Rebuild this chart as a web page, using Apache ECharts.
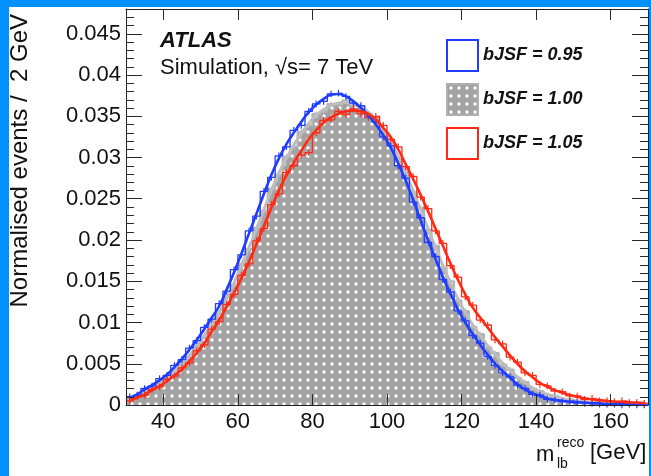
<!DOCTYPE html>
<html><head><meta charset="utf-8">
<script src="https://cdn.jsdelivr.net/npm/echarts@6/dist/echarts.min.js"></script>
<style>html,body{margin:0;padding:0;background:#fff;}#c{width:651px;height:476px;}</style>
</head><body><div id="c"></div>
<script>
// bin centres (2 GeV bins from 30 to 170 GeV)
const massCenters = [31,33,35,37,39,41,43,45,47,49,51,53,55,57,59,61,63,65,67,69,71,73,75,77,79,81,83,85,87,89,91,93,95,97,99,101,103,105,107,109,111,113,115,117,119,121,123,125,127,129,131,133,135,137,139,141,143,145,147,149,151,153,155,157,159,161,163,165,167,169];

// bJSF = 0.95 histogram
const blueHist = [0.0010,0.0012,0.0020,0.0023,0.0032,0.0036,0.0048,0.0055,0.0069,0.0078,0.0094,0.0104,0.0123,0.0138,0.0164,0.0182,0.0211,0.0229,0.0259,0.0276,0.0302,0.0313,0.0333,0.0339,0.0356,0.0365,0.0368,0.0377,0.0378,0.0374,0.0366,0.0363,0.0349,0.0343,0.0325,0.0314,0.0290,0.0275,0.0246,0.0227,0.0197,0.0180,0.0152,0.0137,0.0114,0.0102,0.0084,0.0075,0.0059,0.0048,0.0039,0.0034,0.0024,0.0020,0.0013,0.0012,0.0007,0.0006,0.0004,0.0005,0.0003,0.0002,0.0002,0.0001,0.0001,0.0001,0.0000,0.0001,0.0000,0.0000];
// bJSF = 1.00 histogram
const greyHist = [0.0008,0.0012,0.0015,0.0022,0.0026,0.0034,0.0040,0.0051,0.0059,0.0072,0.0083,0.0099,0.0111,0.0131,0.0146,0.0171,0.0189,0.0215,0.0235,0.0262,0.0279,0.0301,0.0313,0.0331,0.0339,0.0353,0.0356,0.0365,0.0364,0.0369,0.0363,0.0362,0.0353,0.0348,0.0332,0.0321,0.0299,0.0283,0.0258,0.0239,0.0212,0.0193,0.0167,0.0150,0.0127,0.0114,0.0095,0.0086,0.0070,0.0063,0.0049,0.0043,0.0033,0.0028,0.0020,0.0017,0.0012,0.0011,0.0007,0.0007,0.0004,0.0004,0.0003,0.0003,0.0002,0.0002,0.0001,0.0001,0.0001,0.0001];
// bJSF = 1.05 histogram
const redHist = [0.0005,0.0010,0.0012,0.0019,0.0022,0.0031,0.0035,0.0045,0.0051,0.0066,0.0073,0.0092,0.0101,0.0122,0.0134,0.0157,0.0171,0.0199,0.0214,0.0243,0.0256,0.0282,0.0290,0.0303,0.0306,0.0330,0.0345,0.0346,0.0356,0.0352,0.0359,0.0353,0.0349,0.0350,0.0339,0.0322,0.0313,0.0289,0.0277,0.0252,0.0238,0.0211,0.0196,0.0169,0.0155,0.0131,0.0121,0.0103,0.0097,0.0079,0.0074,0.0058,0.0052,0.0039,0.0036,0.0025,0.0023,0.0017,0.0016,0.0011,0.0011,0.0007,0.0008,0.0005,0.0005,0.0004,0.0005,0.0003,0.0003,0.0002];

// fitted curves
const blueFit = [0.0009,0.0013,0.0019,0.0024,0.0030,0.0037,0.0046,0.0056,0.0067,0.0079,0.0092,0.0106,0.0120,0.0140,0.0161,0.0184,0.0208,0.0232,0.0256,0.0279,0.0299,0.0316,0.0330,0.0343,0.0355,0.0364,0.0371,0.0376,0.0377,0.0374,0.0368,0.0360,0.0351,0.0340,0.0327,0.0312,0.0293,0.0272,0.0249,0.0224,0.0200,0.0177,0.0155,0.0135,0.0116,0.0100,0.0086,0.0073,0.0061,0.0050,0.0041,0.0033,0.0025,0.0019,0.0014,0.0011,0.0008,0.0006,0.0005,0.0004,0.0003,0.0003,0.0002,0.0002,0.0001,0.0001,0.0001,0.0001,0.0000,0.0000];
const greyFit = [0.0008,0.0011,0.0016,0.0021,0.0027,0.0033,0.0041,0.0050,0.0060,0.0071,0.0084,0.0098,0.0112,0.0129,0.0148,0.0169,0.0191,0.0213,0.0237,0.0260,0.0281,0.0299,0.0315,0.0329,0.0341,0.0351,0.0358,0.0363,0.0366,0.0367,0.0365,0.0361,0.0355,0.0346,0.0334,0.0319,0.0301,0.0281,0.0260,0.0237,0.0214,0.0191,0.0169,0.0148,0.0129,0.0112,0.0097,0.0084,0.0072,0.0061,0.0051,0.0042,0.0034,0.0027,0.0021,0.0016,0.0013,0.0010,0.0008,0.0006,0.0005,0.0004,0.0003,0.0003,0.0002,0.0002,0.0001,0.0001,0.0001,0.0001];
const redFit = [0.0006,0.0009,0.0013,0.0018,0.0023,0.0029,0.0036,0.0043,0.0053,0.0063,0.0075,0.0089,0.0103,0.0119,0.0136,0.0154,0.0174,0.0195,0.0217,0.0239,0.0260,0.0278,0.0294,0.0308,0.0322,0.0333,0.0342,0.0349,0.0353,0.0356,0.0357,0.0356,0.0353,0.0346,0.0336,0.0325,0.0310,0.0292,0.0274,0.0255,0.0235,0.0214,0.0193,0.0172,0.0152,0.0134,0.0118,0.0106,0.0094,0.0082,0.0071,0.0060,0.0050,0.0041,0.0034,0.0027,0.0022,0.0018,0.0015,0.0012,0.0010,0.0008,0.0007,0.0006,0.0005,0.0004,0.0004,0.0003,0.0003,0.0002];

const blueErr = 0.0004, greyErr = 0.0003, redErr = 0.0004;
const legendNames = ['bJSF = 0.95', 'bJSF = 1.00', 'bJSF = 1.05'];

const BLUE = '#1f3cff', RED = '#ff2a14', GREY = '#b4b4b4';
const FONT = 'Liberation Sans, Arial, sans-serif';
const binHalf = 1;

function dotPattern() {
  const c = document.createElement('canvas');
  c.width = 8; c.height = 8;
  const g = c.getContext('2d');
  g.fillStyle = '#a3a3a3'; g.fillRect(0, 0, 8, 8);
  g.fillStyle = '#ffffff';
  g.beginPath(); g.arc(4, 4, 1.7, 0, Math.PI * 2); g.fill();
  return c;
}
const pattern = { image: dotPattern(), repeat: 'repeat' };

function steps(vals) {
  const d = vals.map((v, i) => [massCenters[i] - binHalf, v]);
  d.push([massCenters[massCenters.length - 1] + binHalf, vals[vals.length - 1]]);
  return d;
}
function pts(vals) { return vals.map((v, i) => [massCenters[i], v]); }
function errSeries(vals, err, color, z) {
  return {
    type: 'custom', silent: true, z: z,
    data: vals.map((v, i) => [massCenters[i], v, err]),
    renderItem(params, api) {
      const x = api.value(0), y = api.value(1), e = api.value(2);
      const p1 = api.coord([x, y - e]), p2 = api.coord([x, y + e]);
      return { type: 'line', shape: { x1: p1[0], y1: p1[1], x2: p2[0], y2: p2[1] },
        style: { stroke: color, lineWidth: 1.2 } };
    }
  };
}

const chart = echarts.init(document.getElementById('c'), null, { renderer: 'canvas' });
const axisLineStyle = { show: true, onZero: false, lineStyle: { color: '#222', width: 1 } };
const tickStyle = { color: '#2a2a2a', width: 1 };
chart.setOption({
  animation: false,
  backgroundColor: '#ffffff',
  grid: { left: 126, right: 3, top: 9, bottom: 71, containLabel: false },
  xAxis: [
    { type: 'value', position: 'bottom', min: 30, max: 170, splitNumber: 7, z: 10,
      axisLine: axisLineStyle, splitLine: { show: false },
      axisTick: { show: true, inside: true, length: 11, lineStyle: tickStyle },
      axisLabel: { showMinLabel: false, showMaxLabel: false, margin: 6, fontFamily: FONT, fontSize: 22, color: '#111' } },
    { type: 'value', position: 'top', min: 30, max: 170, splitNumber: 7, z: 10,
      axisLine: axisLineStyle, splitLine: { show: false },
      axisTick: { show: true, inside: true, length: 11, lineStyle: tickStyle },
      axisLabel: { show: false } }
  ],
  yAxis: [
    { type: 'value', position: 'left', min: 0, max: 0.048, interval: 0.005, z: 10,
      axisLine: axisLineStyle, splitLine: { show: false },
      axisTick: { show: true, inside: true, length: 16, lineStyle: tickStyle },
      minorTick: { show: true, splitNumber: 5, length: 8, lineStyle: tickStyle },
      minorSplitLine: { show: false },
      axisLabel: { showMaxLabel: false, margin: 5, fontFamily: FONT, fontSize: 22, color: '#111' } },
    { type: 'value', position: 'right', min: 0, max: 0.048, interval: 0.005, z: 10,
      axisLine: axisLineStyle, splitLine: { show: false },
      axisTick: { show: true, inside: true, length: 16, lineStyle: tickStyle },
      minorTick: { show: true, splitNumber: 5, length: 8, lineStyle: tickStyle },
      minorSplitLine: { show: false },
      axisLabel: { show: false } }
  ],
  legend: {
    orient: 'vertical', left: 446, top: 39, itemWidth: 31, itemHeight: 31, itemGap: 11,
    icon: 'rect', selectedMode: false, padding: 0,
    textStyle: { fontFamily: FONT, fontSize: 18, fontWeight: 'bold', fontStyle: 'italic', color: '#111' },
    data: legendNames
  },
  series: [
    { name: legendNames[0], type: 'bar', data: [], itemStyle: { color: '#ffffff', borderColor: BLUE, borderWidth: 2 } },
    { name: legendNames[1], type: 'bar', data: [], itemStyle: { color: pattern, borderColor: '#b0b0b0', borderWidth: 1 } },
    { name: legendNames[2], type: 'bar', data: [], itemStyle: { color: '#ffffff', borderColor: RED, borderWidth: 2 } },
    { name: 'grey-hist', type: 'line', step: 'end', data: steps(greyHist), symbol: 'none', z: 2,
      lineStyle: { color: GREY, width: 2 }, areaStyle: { color: pattern, opacity: 1 } },
    errSeries(greyHist, greyErr, GREY, 3),
    { name: 'grey-fit', type: 'line', smooth: true, data: pts(greyFit), symbol: 'none', z: 3,
      lineStyle: { color: '#bdbdbd', width: 3 } },
    { name: 'blue-hist', type: 'line', step: 'end', data: steps(blueHist), symbol: 'none', z: 4,
      lineStyle: { color: BLUE, width: 1.3 } },
    errSeries(blueHist, blueErr, BLUE, 4),
    { name: 'red-hist', type: 'line', step: 'end', data: steps(redHist), symbol: 'none', z: 4,
      lineStyle: { color: RED, width: 1.3 } },
    errSeries(redHist, redErr, RED, 4),
    { name: 'blue-fit', type: 'line', smooth: true, data: pts(blueFit), symbol: 'none', z: 5,
      lineStyle: { color: BLUE, width: 2.6 } },
    { name: 'red-fit', type: 'line', smooth: true, data: pts(redFit), symbol: 'none', z: 6,
      lineStyle: { color: RED, width: 2.6 } }
  ],
  graphic: [
    { type: 'text', left: 160, top: 30, silent: true, style: { text: 'ATLAS', font: 'italic bold 22px ' + FONT, fill: '#111' } },
    { type: 'text', left: 160, top: 57, silent: true, style: { text: 'Simulation, √s= 7 TeV', font: '22px ' + FONT, fill: '#111' } },
    { type: 'text', x: 20, y: 14, rotation: Math.PI / 2, silent: true,
      style: { text: 'Normalised events /  2 GeV', font: '24px ' + FONT, fill: '#111', align: 'right', verticalAlign: 'middle' } },
    { type: 'text', x: 536, y: 444, silent: true, style: { text: 'm', font: '22px ' + FONT, fill: '#111' } },
    { type: 'text', x: 557, y: 436, silent: true, style: { text: 'reco', font: '14px ' + FONT, fill: '#111' } },
    { type: 'text', x: 557, y: 457, silent: true, style: { text: 'lb', font: '14px ' + FONT, fill: '#111' } },
    { type: 'text', x: 590, y: 442, silent: true, style: { text: '[GeV]', font: '22px ' + FONT, fill: '#111' } },
    { type: 'rect', silent: true, z: 100, shape: { x: 0, y: 0, width: 651, height: 7 }, style: { fill: '#0090ff' } },
    { type: 'rect', silent: true, z: 100, shape: { x: 0, y: 0, width: 9, height: 476 }, style: { fill: '#0090ff' } },
    { type: 'rect', silent: true, z: 100, shape: { x: 649, y: 0, width: 2, height: 476 }, style: { fill: '#0090ff' } }
  ]
});
</script></body></html>
